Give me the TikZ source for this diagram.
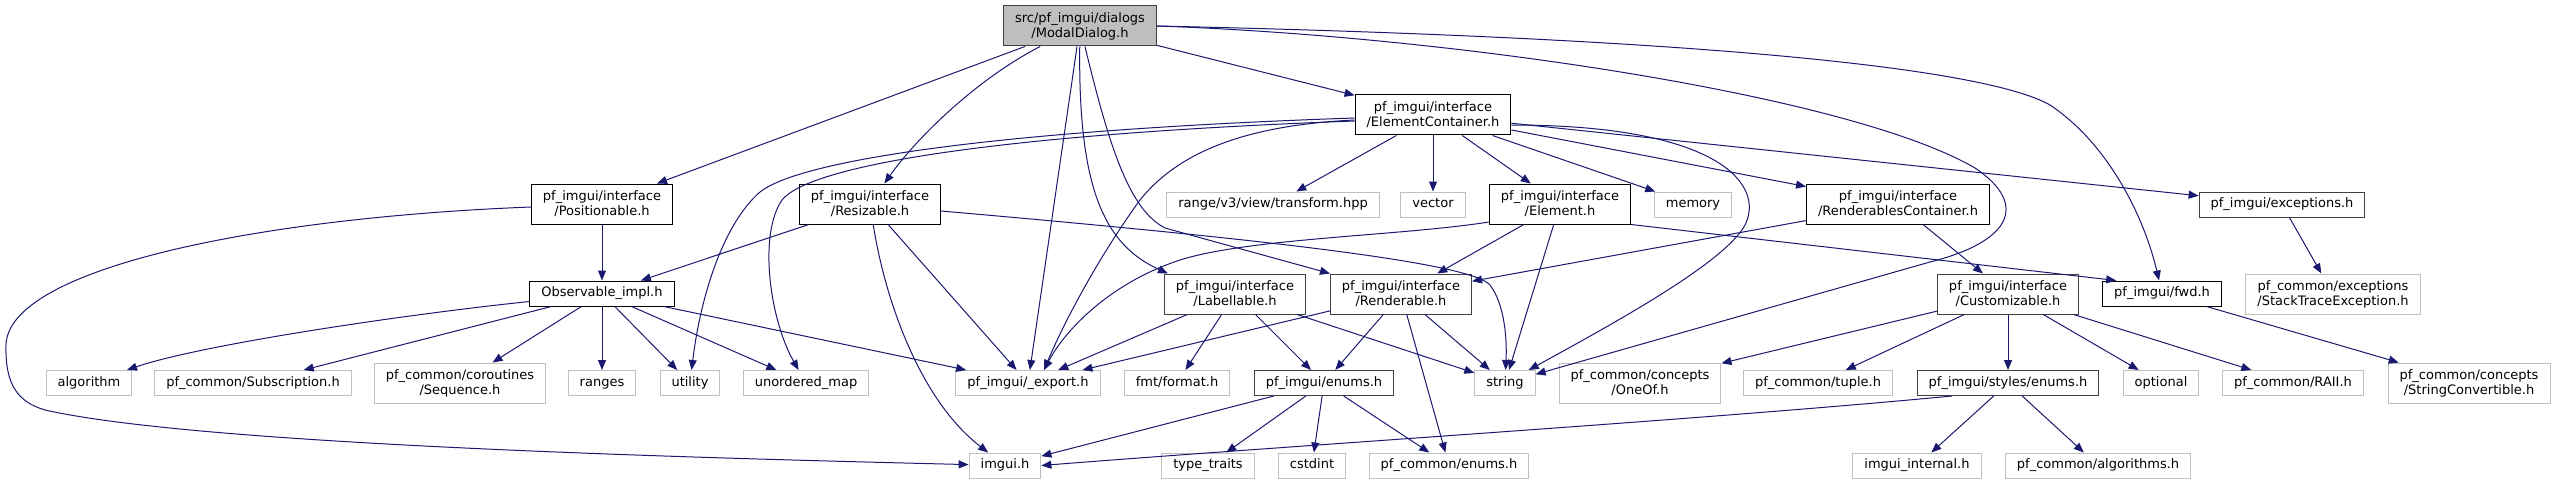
\documentclass[tikz,border=0pt]{standalone}
\usepackage{fontspec}
\setmainfont{DejaVu Sans}
\usetikzlibrary{arrows.meta}

\definecolor{edgeblue}{HTML}{191970}
\definecolor{maingray}{HTML}{BFBFBF}
\definecolor{darkline}{HTML}{404040}
\definecolor{extline}{HTML}{BFBFBF}

\begin{document}
\begin{tikzpicture}[x=1pt, y=-1pt,
  every node/.style={font=\fontsize{13}{15}\selectfont, inner xsep=11.5pt, inner ysep=0pt, line width=1pt, fill=white},
  oneline/.style={text height=9.6pt, text depth=3.1pt, minimum height=25pt},
  twoline/.style={align=center, minimum height=40pt},
  incfile/.style={draw=black},
  docfile/.style={draw=darkline},
  extfile/.style={draw=extline},
  thisfile/.style={draw=darkline, fill=maingray},
  dep/.style={draw=edgeblue, line width=1pt, -{Triangle[length=10pt, width=8pt]}}]

\useasboundingbox (0,0) rectangle (2555,484);

% Nodes
\node (main) [thisfile, twoline] at (1080,26) {src/pf\_imgui/dialogs\\/ModalDialog.h};

\node (ec) [incfile, twoline] at (1433,115) {pf\_imgui/interface\\/ElementContainer.h};

\node (positionable) [incfile, twoline] at (602,204) {pf\_imgui/interface\\/Positionable.h};
\node (resizable) [incfile, twoline] at (870,204) {pf\_imgui/interface\\/Resizable.h};
\node (transform) [extfile, oneline] at (1273,204.5) {range/v3/view/transform.hpp};
\node (vector) [extfile, oneline] at (1433,204.5) {vector};
\node (element) [incfile, twoline] at (1560,204) {pf\_imgui/interface\\/Element.h};
\node (memory) [extfile, oneline] at (1693,204.5) {memory};
\node (rcontainer) [incfile, twoline] at (1898,204) {pf\_imgui/interface\\/RenderablesContainer.h};
\node (exceptions) [docfile, oneline] at (2282,204.5) {pf\_imgui/exceptions.h};

\node (observable) [incfile, oneline] at (602,293.5) {Observable\_impl.h};
\node (labellable) [docfile, twoline] at (1235,294) {pf\_imgui/interface\\/Labellable.h};
\node (renderable) [docfile, twoline] at (1401,294) {pf\_imgui/interface\\/Renderable.h};
\node (customizable) [docfile, twoline] at (2008,294) {pf\_imgui/interface\\/Customizable.h};
\node (fwd) [incfile, oneline] at (2162,293.5) {pf\_imgui/fwd.h};
\node (stacktrace) [extfile, twoline] at (2333,294) {pf\_common/exceptions\\/StackTraceException.h};

\node (algorithm) [extfile, oneline] at (89,383) {algorithm};
\node (subscription) [extfile, oneline] at (253,383) {pf\_common/Subscription.h};
\node (sequence) [extfile, twoline] at (460,383) {pf\_common/coroutines\\/Sequence.h};
\node (ranges) [extfile, oneline] at (602,383) {ranges};
\node (utility) [extfile, oneline] at (690,383) {utility};
\node (unorderedmap) [extfile, oneline] at (806,383) {unordered\_map};
\node (export) [extfile, oneline] at (1028,383) {pf\_imgui/\_export.h};
\node (format) [extfile, oneline] at (1177,383) {fmt/format.h};
\node (enums) [docfile, oneline] at (1324,383) {pf\_imgui/enums.h};
\node (string) [extfile, oneline] at (1505,383) {string};
\node (oneof) [extfile, twoline] at (1640,383) {pf\_common/concepts\\/OneOf.h};
\node (tuple) [extfile, oneline] at (1818,383) {pf\_common/tuple.h};
\node (styleenums) [docfile, oneline] at (2008,383) {pf\_imgui/styles/enums.h};
\node (optional) [extfile, oneline] at (2161,383) {optional};
\node (raii) [extfile, oneline] at (2293,383) {pf\_common/RAII.h};
\node (stringconv) [extfile, twoline] at (2469,383) {pf\_common/concepts\\/StringConvertible.h};

\node (imgui) [extfile, oneline] at (1005,465.5) {imgui.h};
\node (typetraits) [extfile, oneline] at (1208,465.5) {type\_traits};
\node (cstdint) [extfile, oneline] at (1312,465.5) {cstdint};
\node (commonenums) [extfile, oneline] at (1449,465.5) {pf\_common/enums.h};
\node (imguiinternal) [extfile, oneline] at (1917,465.5) {imgui\_internal.h};
\node (algorithms) [extfile, oneline] at (2098,465.5) {pf\_common/algorithms.h};

% Arrows
\draw[dep] (main) -- (positionable);
\draw[dep] (main) .. controls (975,80) and (915,140) .. (resizable);
\draw[dep] (main) -- (ec);
\draw[dep] (main) -- (export);
\draw[dep] (main) .. controls (1078,190) and (1105,245) .. ([xshift=4pt]labellable.north west);
\draw[dep] (main) .. controls (1110,150) and (1130,210) .. (1165,228) -- (renderable.north west);
\draw[dep] (main.east) .. controls (1450,36) and (1850,95) .. (1975,168) .. controls (2030,205) and (2010,242) .. (1930,262) -- (string);
\draw[dep] (main.east) .. controls (1700,38) and (1985,68) .. (2050,105) .. controls (2110,145) and (2145,220) .. (fwd);

\draw[dep] (ec) -- (transform);
\draw[dep] (ec) -- (vector);
\draw[dep] (ec) -- (element);
\draw[dep] (ec) -- (memory);
\draw[dep] (ec) -- (rcontainer);
\draw[dep] (ec) -- (exceptions);
\draw[dep] ([yshift=-10pt]ec.east) .. controls (1720,125) and (1765,185) .. (1745,225) .. controls (1725,262) and (1620,320) .. (string);
\draw[dep] ([yshift=-5pt]ec.west) .. controls (1250,125) and (1180,150) .. (1140,200) .. controls (1100,255) and (1065,320) .. ([xshift=16pt]export.north);
\draw[dep] ([yshift=-3pt]ec.west) .. controls (1000,130) and (800,160) .. (760,192) .. controls (722,225) and (700,300) .. (utility);
\draw[dep] ([yshift=-6pt]ec.west) .. controls (1000,134) and (810,165) .. (782,200) .. controls (758,235) and (770,320) .. (unorderedmap);

\draw[dep] (positionable) -- (observable);
\draw[dep] ([yshift=-3pt]positionable.west) .. controls (250,218) and (8,270) .. (6,345) .. controls (5,385) and (18,402) .. (45,410) .. controls (200,445) and (700,458) .. (imgui);

\draw[dep] (resizable) -- (observable);
\draw[dep] (resizable) -- (export);
\draw[dep] (resizable) .. controls (885,300) and (920,400) .. (imgui);
\draw[dep] ([yshift=-7pt]resizable.east) .. controls (1250,238) and (1470,262) .. (1490,285) .. controls (1505,305) and (1507,340) .. (string);

\draw[dep] ([yshift=-8pt]observable.west) .. controls (400,315) and (200,345) .. (algorithm);
\draw[dep] (observable) -- (subscription);
\draw[dep] (observable) -- (sequence);
\draw[dep] (observable) -- (ranges);
\draw[dep] (observable) -- (utility);
\draw[dep] (observable) -- (unorderedmap);
\draw[dep] (observable) -- (export);

\draw[dep] (labellable) -- (export);
\draw[dep] (labellable) -- (format);
\draw[dep] (labellable) -- (enums);
\draw[dep] (labellable) -- (string);

\draw[dep] (renderable) -- (export);
\draw[dep] (renderable) -- (enums);
\draw[dep] (renderable) -- (commonenums);
\draw[dep] (renderable) -- (string);

\draw[dep] ([yshift=-18pt]element.west) .. controls (1400,236) and (1250,238) .. (1180,260) .. controls (1110,283) and (1065,330) .. ([xshift=16pt]export.north);
\draw[dep] (element) -- (renderable);
\draw[dep] (element) -- (string);
\draw[dep] (element.south east) -- ([xshift=14pt]fwd.north west);

\draw[dep] (rcontainer) -- (renderable);
\draw[dep] (rcontainer) -- (customizable);

\draw[dep] (customizable) -- (oneof);
\draw[dep] (customizable) -- (tuple);
\draw[dep] (customizable) -- (styleenums);
\draw[dep] (customizable) -- (optional);
\draw[dep] (customizable) -- (raii);

\draw[dep] ([xshift=-56pt]styleenums.south) .. controls (1700,420) and (1300,445) .. (imgui.east);
\draw[dep] (styleenums) -- (imguiinternal);
\draw[dep] (styleenums) -- (algorithms);

\draw[dep] (enums) -- (imgui);
\draw[dep] (enums) -- (typetraits);
\draw[dep] (enums) -- (cstdint);
\draw[dep] (enums) -- (commonenums);

\draw[dep] (fwd) -- (stringconv);
\draw[dep] (exceptions) -- (stacktrace);

\end{tikzpicture}
\end{document}
